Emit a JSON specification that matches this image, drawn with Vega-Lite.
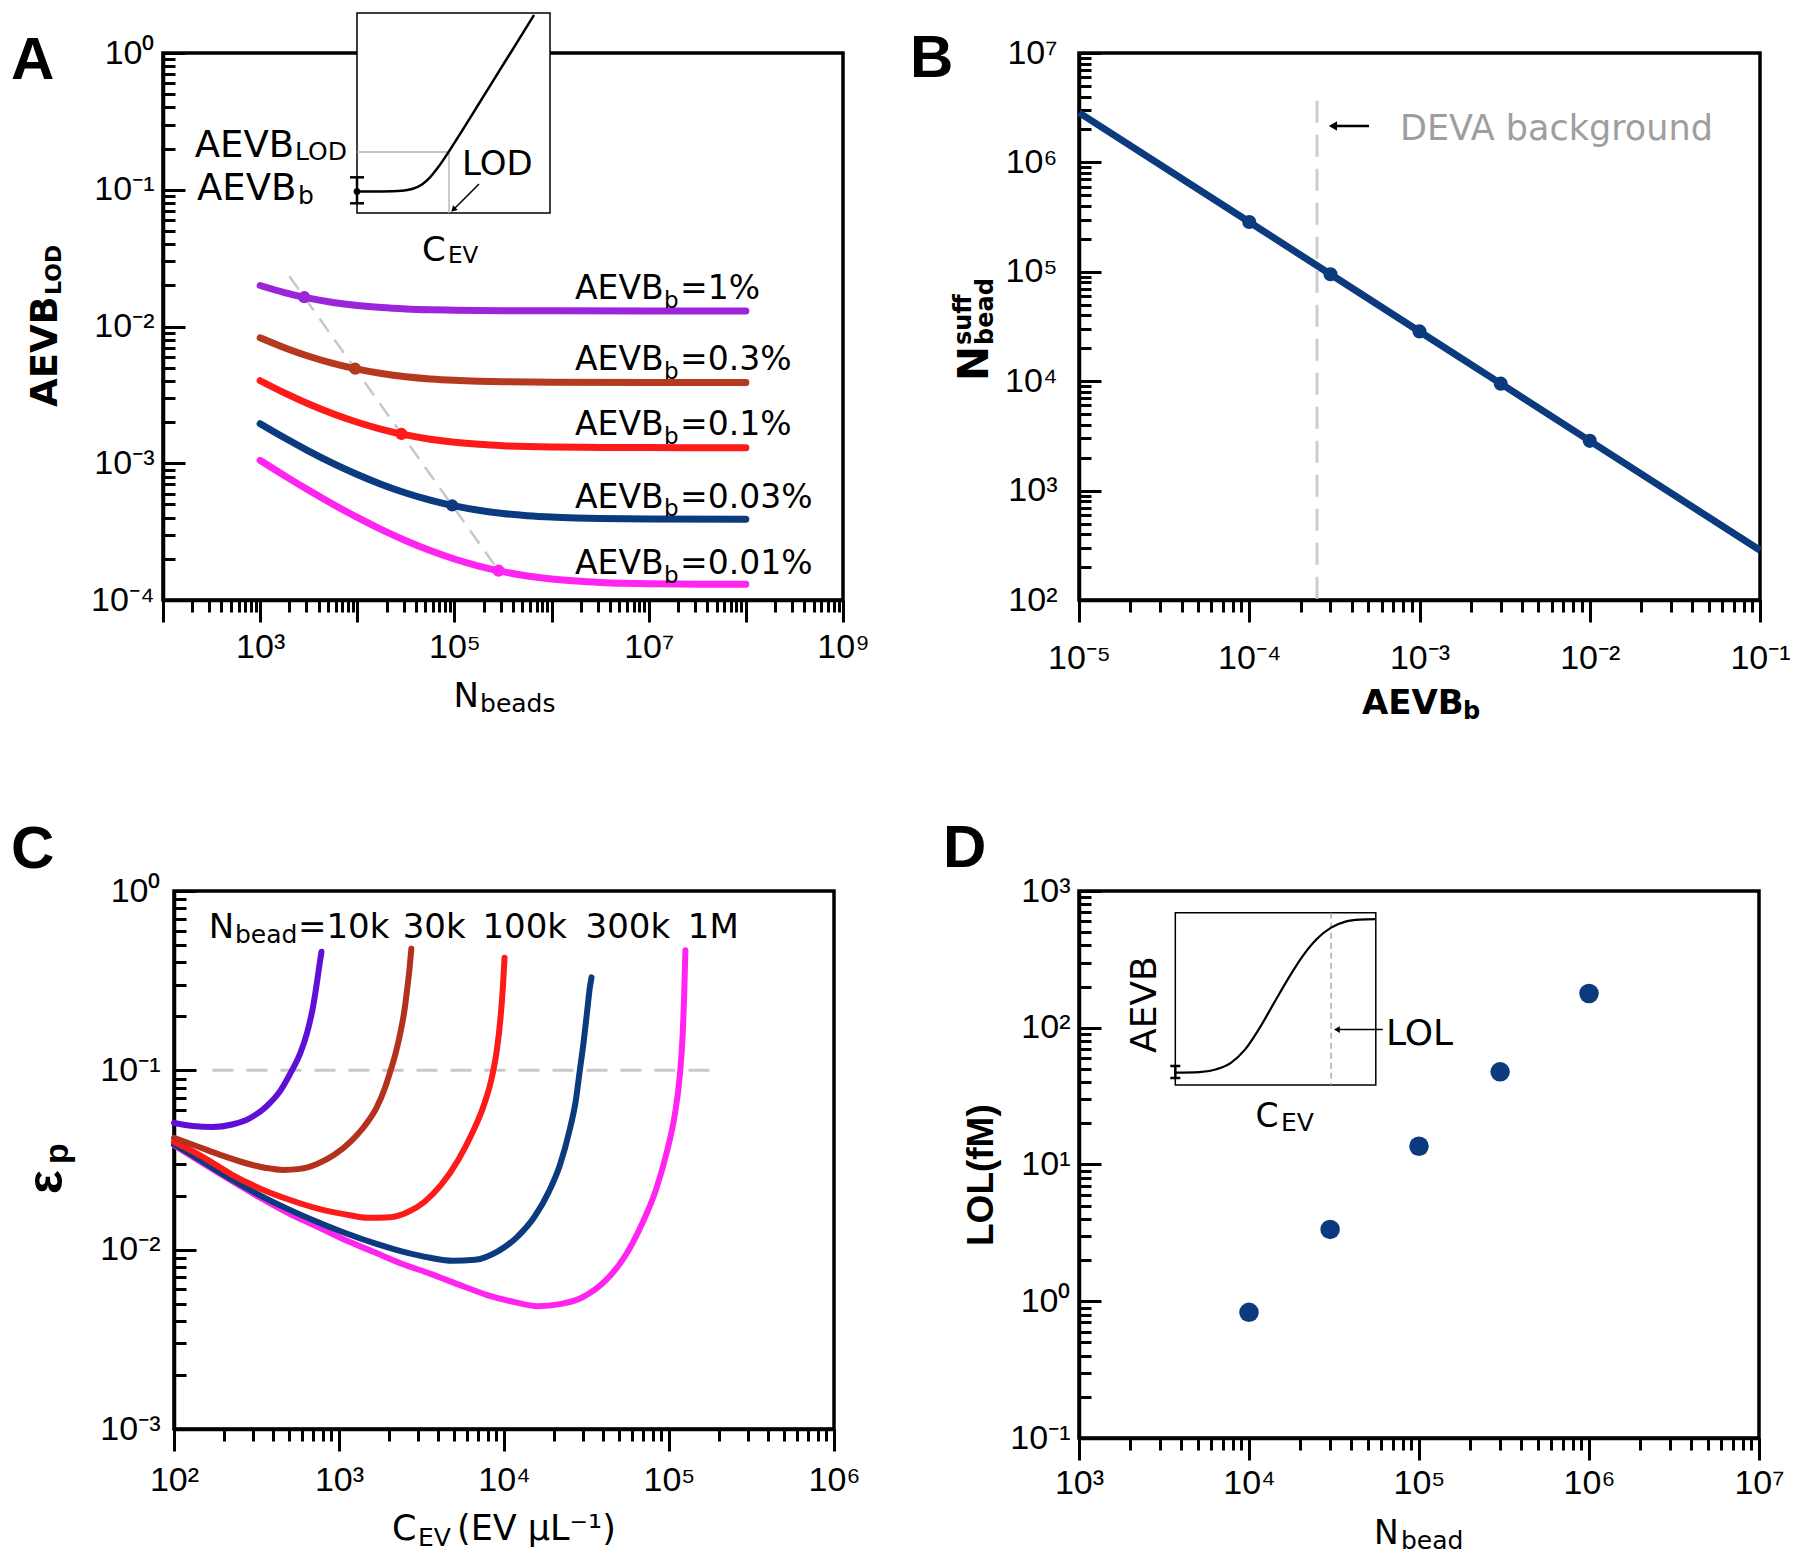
{
"$schema": "https://vega.github.io/schema/vega-lite/v6.json",
"background": "white",
"padding": {"left": 9, "top": 8, "right": 5, "bottom": 5},
"autosize": {"type": "pad"},
"bounds": "flush",
"align": "all",
"columns": 2,
"spacing": {"row": 291, "column": 235},
"resolve": {"scale": {"color": "independent"}},
"config": {
  "view": {"stroke": "black", "strokeWidth": 3.5},
  "font": "Liberation Sans",
  "axis": {"grid": false, "domainColor": "black", "domainWidth": 3.5, "tickColor": "black", "tickWidth": 3, "labelFont": "Liberation Sans", "labelFontSize": 34, "labelColor": "black", "labelOverlap": false, "labelFlush": false, "labelBound": false, "labelAngle": 0},
  "text": {"font": "DejaVu Sans", "color": "black"}
},
"concat": [
{
"width": 680, "height": 547,
"encoding": {
  "x": {"field": "N", "type": "quantitative", "scale": {"type": "log", "domain": [100, 1000000000]},
        "axis": {"title": null, "labelPadding": 8,
                 "values": [100,200,300,400,500,600,700,800,900,1000,2000,3000,4000,5000,6000,7000,8000,9000,10000,20000,30000,40000,50000,60000,70000,80000,90000,100000,200000,300000,400000,500000,600000,700000,800000,900000,1000000,2000000,3000000,4000000,5000000,6000000,7000000,8000000,9000000,10000000,20000000,30000000,40000000,50000000,60000000,70000000,80000000,90000000,100000000,200000000,300000000,400000000,500000000,600000000,700000000,800000000,900000000,1000000000],
                 "labelExpr": "abs(log(datum.value)/LN10-round(log(datum.value)/LN10))<0.01 && round(log(datum.value)/LN10)%2==1 ? '10'+['⁰','¹','²','³','⁴','⁵','⁶','⁷','⁸','⁹'][round(log(datum.value)/LN10)] : ''",
                 "tickSize": {"expr": "abs(log(datum.value)/LN10-round(log(datum.value)/LN10))<0.01 ? 22 : 12"}}},
  "y": {"field": "AEVB", "type": "quantitative", "scale": {"type": "log", "domain": [0.0001, 1]},
        "axis": {"title": null, "labelPadding": 31,
                 "values": [0.0001,0.0002,0.0003,0.0004,0.0005,0.0006,0.0007,0.0008,0.0009,0.001,0.002,0.003,0.004,0.005,0.006,0.007,0.008,0.009,0.01,0.02,0.03,0.04,0.05,0.06,0.07,0.08,0.09,0.1,0.2,0.3,0.4,0.5,0.6,0.7,0.8,0.9,1],
                 "labelExpr": "abs(log(datum.value)/LN10-round(log(datum.value)/LN10))<0.01 ? '10'+(round(log(datum.value)/LN10)<0 ? '⁻' : '')+['⁰','¹','²','³','⁴','⁵','⁶','⁷','⁸','⁹'][abs(round(log(datum.value)/LN10))] : ''",
                 "tickSize": {"expr": "abs(log(datum.value)/LN10-round(log(datum.value)/LN10))<0.01 ? -22 : -12"}}}
},
"layer": [
  {"data": {"values": [{"N": 2000, "AEVB": 0.02333}, {"N": 285000, "AEVB": 0.0001637}]},
   "mark": {"type": "line", "color": "#c8c8c8", "strokeWidth": 2.5, "strokeDash": [16, 10]}, "encoding": {}},
  {"data": {"values": [
    {"b":"1%","N":1000,"AEVB":0.01995},{"b":"1%","N":1778,"AEVB":0.017721},{"b":"1%","N":3162,"AEVB":0.01612},{"b":"1%","N":5623,"AEVB":0.015},{"b":"1%","N":10000,"AEVB":0.014243},{"b":"1%","N":17783,"AEVB":0.01375},{"b":"1%","N":31623,"AEVB":0.013442},{"b":"1%","N":56234,"AEVB":0.013256},{"b":"1%","N":100000,"AEVB":0.013146},{"b":"1%","N":177828,"AEVB":0.013083},{"b":"1%","N":316228,"AEVB":0.013047},{"b":"1%","N":1000000,"AEVB":0.013015},{"b":"1%","N":10000000,"AEVB":0.013002},{"b":"1%","N":100000000,"AEVB":0.013},
    {"b":"0.3%","N":1000,"AEVB":0.0082733},{"b":"0.3%","N":1778,"AEVB":0.0069992},{"b":"0.3%","N":3162,"AEVB":0.0060575},{"b":"0.3%","N":5623,"AEVB":0.0053688},{"b":"0.3%","N":10000,"AEVB":0.0048734},{"b":"0.3%","N":17783,"AEVB":0.0045259},{"b":"0.3%","N":31623,"AEVB":0.0042899},{"b":"0.3%","N":56234,"AEVB":0.0041358},{"b":"0.3%","N":100000,"AEVB":0.0040392},{"b":"0.3%","N":177828,"AEVB":0.0039807},{"b":"0.3%","N":316228,"AEVB":0.0039462},{"b":"0.3%","N":1000000,"AEVB":0.0039149},{"b":"0.3%","N":10000000,"AEVB":0.0039015},{"b":"0.3%","N":100000000,"AEVB":0.0039},
    {"b":"0.1%","N":1000,"AEVB":0.004015},{"b":"0.1%","N":1778,"AEVB":0.0032695},{"b":"0.1%","N":3162,"AEVB":0.0027134},{"b":"0.1%","N":5623,"AEVB":0.0023001},{"b":"0.1%","N":10000,"AEVB":0.001995},{"b":"0.1%","N":17783,"AEVB":0.0017721},{"b":"0.1%","N":31623,"AEVB":0.001612},{"b":"0.1%","N":56234,"AEVB":0.0015},{"b":"0.1%","N":100000,"AEVB":0.0014243},{"b":"0.1%","N":177828,"AEVB":0.001375},{"b":"0.1%","N":316228,"AEVB":0.0013442},{"b":"0.1%","N":562341,"AEVB":0.0013256},{"b":"0.1%","N":1000000,"AEVB":0.0013146},{"b":"0.1%","N":3162278,"AEVB":0.0013047},{"b":"0.1%","N":10000000,"AEVB":0.0013015},{"b":"0.1%","N":100000000,"AEVB":0.0013},
    {"b":"0.03%","N":1000,"AEVB":0.0019456},{"b":"0.03%","N":1778,"AEVB":0.0015355},{"b":"0.03%","N":3162,"AEVB":0.0012284},{"b":"0.03%","N":5623,"AEVB":0.00099873},{"b":"0.03%","N":10000,"AEVB":0.00082733},{"b":"0.03%","N":17783,"AEVB":0.00069992},{"b":"0.03%","N":31623,"AEVB":0.00060575},{"b":"0.03%","N":56234,"AEVB":0.00053688},{"b":"0.03%","N":100000,"AEVB":0.00048734},{"b":"0.03%","N":177828,"AEVB":0.00045259},{"b":"0.03%","N":316228,"AEVB":0.00042899},{"b":"0.03%","N":562341,"AEVB":0.00041358},{"b":"0.03%","N":1000000,"AEVB":0.00040392},{"b":"0.03%","N":1778279,"AEVB":0.00039807},{"b":"0.03%","N":3162278,"AEVB":0.00039462},{"b":"0.03%","N":10000000,"AEVB":0.00039149},{"b":"0.03%","N":100000000,"AEVB":0.00039015},
    {"b":"0.01%","N":1000,"AEVB":0.00104916},{"b":"0.01%","N":1778,"AEVB":0.00081202},{"b":"0.01%","N":3162,"AEVB":0.0006343},{"b":"0.01%","N":5623,"AEVB":0.00050115},{"b":"0.01%","N":10000,"AEVB":0.0004015},{"b":"0.01%","N":17783,"AEVB":0.00032695},{"b":"0.01%","N":31623,"AEVB":0.00027134},{"b":"0.01%","N":56234,"AEVB":0.00023001},{"b":"0.01%","N":100000,"AEVB":0.0001995},{"b":"0.01%","N":177828,"AEVB":0.00017721},{"b":"0.01%","N":316228,"AEVB":0.0001612},{"b":"0.01%","N":562341,"AEVB":0.00015},{"b":"0.01%","N":1000000,"AEVB":0.00014243},{"b":"0.01%","N":1778279,"AEVB":0.0001375},{"b":"0.01%","N":3162278,"AEVB":0.00013442},{"b":"0.01%","N":5623413,"AEVB":0.00013256},{"b":"0.01%","N":10000000,"AEVB":0.00013146},{"b":"0.01%","N":31622777,"AEVB":0.00013047},{"b":"0.01%","N":100000000,"AEVB":0.00013015}
  ]},
   "mark": {"type": "line", "strokeWidth": 7, "interpolate": "monotone", "strokeCap": "round"},
   "encoding": {"color": {"field": "b", "type": "nominal", "legend": null, "scale": {"domain": ["1%","0.3%","0.1%","0.03%","0.01%"], "range": ["#9b26d9","#b5391f","#ff1a1a","#0b3b7e","#ff24ef"]}}}},
  {"data": {"values": [{"b":"1%","N":2850,"AEVB":0.01637},{"b":"0.3%","N":9500,"AEVB":0.004911},{"b":"0.1%","N":28500,"AEVB":0.001637},{"b":"0.03%","N":95000,"AEVB":0.0004911},{"b":"0.01%","N":285000,"AEVB":0.0001637}]},
   "mark": {"type": "circle", "size": 150, "opacity": 1},
   "encoding": {"color": {"field": "b", "type": "nominal", "legend": null, "scale": {"domain": ["1%","0.3%","0.1%","0.03%","0.01%"], "range": ["#9b26d9","#b5391f","#ff1a1a","#0b3b7e","#ff24ef"]}}}},
  {"data": {"values": [{"N": 9933, "N2": 963800, "AEVB": 1.961, "AEVB2": 0.0676}]},
   "mark": {"type": "rect", "fill": "white", "stroke": "black", "strokeWidth": 1.5},
   "encoding": {"x2": {"field": "N2"}, "y2": {"field": "AEVB2"}}},
  {"data": {"values": [{"N": 9933, "N2": 87950, "AEVB": 0.1888, "AEVB2": 0.1888}, {"N": 87950, "N2": 87950, "AEVB": 0.1888, "AEVB2": 0.0676}]},
   "mark": {"type": "rule", "color": "#b0b0b0", "strokeWidth": 1.3},
   "encoding": {"x2": {"field": "N2"}, "y2": {"field": "AEVB2"}}},
  {"data": {"values": [{"N":10172,"AEVB":0.0971},{"N":17970,"AEVB":0.09726},{"N":28870,"AEVB":0.09842},{"N":36590,"AEVB":0.1013},{"N":46390,"AEVB":0.1094},{"N":56050,"AEVB":0.1233},{"N":66170,"AEVB":0.1422},{"N":76290,"AEVB":0.1639},{"N":87950,"AEVB":0.191},{"N":119700,"AEVB":0.2698},{"N":170800,"AEVB":0.4043},{"N":243700,"AEVB":0.6065},{"N":347800,"AEVB":0.9117},{"N":496400,"AEVB":1.368},{"N":659500,"AEVB":1.896}]},
   "mark": {"type": "line", "color": "black", "strokeWidth": 2.5, "interpolate": "monotone"}, "encoding": {}},
  {"data": {"values": [{"N": 9933, "AEVB": 0.1233, "AEVB2": 0.0796}]},
   "mark": {"type": "rule", "color": "black", "strokeWidth": 2.5}, "encoding": {"y2": {"field": "AEVB2"}}},
  {"data": {"values": [{"N": 9933, "AEVB": 0.1233}, {"N": 9933, "AEVB": 0.0796}]},
   "mark": {"type": "tick", "orient": "horizontal", "size": 14, "thickness": 2.5, "color": "black", "opacity": 1}},
  {"data": {"values": [{"N": 9933, "AEVB": 0.0971}]},
   "mark": {"type": "circle", "size": 45, "color": "black", "opacity": 1}},
  {"data": {"values": [{"N": 179100, "N2": 99010, "AEVB": 0.11015, "AEVB2": 0.07229}]},
   "mark": {"type": "rule", "color": "black", "strokeWidth": 1.5}, "encoding": {"x2": {"field": "N2"}, "y2": {"field": "AEVB2"}}},
  {"data": {"values": [{"N": 97500, "AEVB": 0.0715}]},
   "mark": {"type": "point", "shape": "triangle-down", "angle": 45, "size": 45, "filled": true, "color": "black", "opacity": 1}},
  {"data": {"values": [
    {"N": 1742800, "AEVB": 0.01586, "t": "AEVB"}, {"N": 21002000, "AEVB": 0.01586, "t": "=1%"},
    {"N": 1742800, "AEVB": 0.0048317, "t": "AEVB"}, {"N": 21002000, "AEVB": 0.0048317, "t": "=0.3%"},
    {"N": 1742800, "AEVB": 0.0016088, "t": "AEVB"}, {"N": 21002000, "AEVB": 0.0016088, "t": "=0.1%"},
    {"N": 1742800, "AEVB": 0.00047468, "t": "AEVB"}, {"N": 21002000, "AEVB": 0.00047468, "t": "=0.03%"},
    {"N": 1742800, "AEVB": 0.00015413, "t": "AEVB"}, {"N": 21002000, "AEVB": 0.00015413, "t": "=0.01%"}]},
   "mark": {"type": "text", "align": "left", "baseline": "alphabetic", "fontSize": 33, "font": "DejaVu Sans"},
   "encoding": {"text": {"field": "t"}}},
  {"data": {"values": [
    {"N": 14374000, "AEVB": 0.013628, "t": "b"}, {"N": 14374000, "AEVB": 0.0041524, "t": "b"}, {"N": 14374000, "AEVB": 0.0013829, "t": "b"}, {"N": 14374000, "AEVB": 0.00040795, "t": "b"}, {"N": 14374000, "AEVB": 0.00013248, "t": "b"},
    {"N": 85896, "AEVB": 0.028888, "t": "EV"}]},
   "mark": {"type": "text", "align": "left", "baseline": "alphabetic", "fontSize": 23, "font": "DejaVu Sans"},
   "encoding": {"text": {"field": "t"}}},
  {"data": {"values": [{"N": 212, "AEVB": 0.17447, "t": "AEVB"}, {"N": 223.9, "AEVB": 0.08345, "t": "AEVB"}]},
   "mark": {"type": "text", "align": "left", "baseline": "alphabetic", "fontSize": 37, "font": "DejaVu Sans"},
   "encoding": {"text": {"field": "t"}}},
  {"data": {"values": [{"N": 2285, "AEVB": 0.16508, "t": "LOD"}, {"N": 2454, "AEVB": 0.07866, "t": "b"}, {"N": 183400, "AEVB": 0.0000151, "t": "beads"}]},
   "mark": {"type": "text", "align": "left", "baseline": "alphabetic", "fontSize": 25, "font": "DejaVu Sans"},
   "encoding": {"text": {"field": "t"}}},
  {"data": {"values": [{"N": 119700, "AEVB": 0.12817, "t": "LOD"}, {"N": 97610, "AEVB": 0.0000165, "t": "N"}, {"N": 46390, "AEVB": 0.03013, "t": "C"}]},
   "mark": {"type": "text", "align": "left", "baseline": "alphabetic", "fontSize": 34, "font": "DejaVu Sans"},
   "encoding": {"text": {"field": "t"}}},
  {"data": {"values": [{"N": 8.108, "AEVB": 0.0025784, "t": "AEVB"}]},
   "mark": {"type": "text", "align": "left", "baseline": "alphabetic", "angle": 270, "fontSize": 37, "fontWeight": "bold", "font": "DejaVu Sans"},
   "encoding": {"text": {"field": "t"}}},
  {"data": {"values": [{"N": 8.913, "AEVB": 0.016995, "t": "LOD"}]},
   "mark": {"type": "text", "align": "left", "baseline": "alphabetic", "angle": 270, "fontSize": 22, "fontWeight": "bold", "font": "DejaVu Sans"},
   "encoding": {"text": {"field": "t"}}},
  {"data": {"values": [{"N": 2.7247, "AEVB": 0.64547, "t": "A"}]},
   "mark": {"type": "text", "align": "left", "baseline": "alphabetic", "fontSize": 60, "fontWeight": "bold", "font": "Liberation Sans"},
   "encoding": {"text": {"field": "t"}}}
]
},
{
"width": 681, "height": 547,
"encoding": {
  "x": {"field": "b", "type": "quantitative", "scale": {"type": "log", "domain": [0.00001, 0.1]},
        "axis": {"title": null, "labelPadding": 19,
                 "values": [0.00001,0.00002,0.00003,0.00004,0.00005,0.00006,0.00007,0.00008,0.00009,0.0001,0.0002,0.0003,0.0004,0.0005,0.0006,0.0007,0.0008,0.0009,0.001,0.002,0.003,0.004,0.005,0.006,0.007,0.008,0.009,0.01,0.02,0.03,0.04,0.05,0.06,0.07,0.08,0.09,0.1],
                 "labelExpr": "abs(log(datum.value)/LN10-round(log(datum.value)/LN10))<0.01 ? '10'+(round(log(datum.value)/LN10)<0 ? '⁻' : '')+['⁰','¹','²','³','⁴','⁵','⁶','⁷','⁸','⁹'][abs(round(log(datum.value)/LN10))] : ''",
                 "tickSize": {"expr": "abs(log(datum.value)/LN10-round(log(datum.value)/LN10))<0.01 ? 22 : 12"}}},
  "y": {"field": "Nsuff", "type": "quantitative", "scale": {"type": "log", "domain": [100, 10000000]},
        "axis": {"title": null, "labelPadding": 44,
                 "values": [100,200,300,400,500,600,700,800,900,1000,2000,3000,4000,5000,6000,7000,8000,9000,10000,20000,30000,40000,50000,60000,70000,80000,90000,100000,200000,300000,400000,500000,600000,700000,800000,900000,1000000,2000000,3000000,4000000,5000000,6000000,7000000,8000000,9000000,10000000],
                 "labelExpr": "abs(log(datum.value)/LN10-round(log(datum.value)/LN10))<0.01 ? '10'+(round(log(datum.value)/LN10)<0 ? '⁻' : '')+['⁰','¹','²','³','⁴','⁵','⁶','⁷','⁸','⁹'][abs(round(log(datum.value)/LN10))] : ''",
                 "tickSize": {"expr": "abs(log(datum.value)/LN10-round(log(datum.value)/LN10))<0.01 ? -22 : -12"}}}
},
"layer": [
  {"data": {"values": [{"b": 0.00025, "Nsuff": 3660000, "Nsuff2": 100}]},
   "mark": {"type": "rule", "color": "#cccccc", "strokeWidth": 3, "strokeDash": [22, 12]}, "encoding": {"y2": {"field": "Nsuff2"}}},
  {"data": {"values": [{"b":0.00001,"Nsuff":2850000},{"b":0.0001,"Nsuff":285000},{"b":0.0003,"Nsuff":95000},{"b":0.001,"Nsuff":28500},{"b":0.003,"Nsuff":9500},{"b":0.01,"Nsuff":2850},{"b":0.1,"Nsuff":285}]},
   "mark": {"type": "line", "color": "#0b3b7e", "strokeWidth": 7}, "encoding": {}},
  {"data": {"values": [{"b":0.0001,"Nsuff":285000},{"b":0.0003,"Nsuff":95000},{"b":0.001,"Nsuff":28500},{"b":0.003,"Nsuff":9500},{"b":0.01,"Nsuff":2850}]},
   "mark": {"type": "circle", "color": "#0b3b7e", "size": 200, "opacity": 1}},
  {"data": {"values": [{"b": 0.0003232, "b2": 0.000505, "Nsuff": 2151000}]},
   "mark": {"type": "rule", "color": "black", "strokeWidth": 2.5}, "encoding": {"x2": {"field": "b2"}}},
  {"data": {"values": [{"b": 0.0003103, "Nsuff": 2151000}]},
   "mark": {"type": "point", "shape": "triangle-left", "size": 90, "filled": true, "color": "black", "opacity": 1}},
  {"data": {"values": [{"b": 0.0007684, "Nsuff": 1585700, "t": "DEVA background"}]},
   "mark": {"type": "text", "align": "left", "baseline": "alphabetic", "fontSize": 35, "color": "#9e9e9e", "font": "DejaVu Sans"},
   "encoding": {"text": {"field": "t"}}},
  {"data": {"values": [{"b": 0.00045952, "Nsuff": 9.173, "t": "AEVB"}]},
   "mark": {"type": "text", "align": "left", "baseline": "alphabetic", "fontSize": 34, "fontWeight": "bold", "font": "DejaVu Sans"},
   "encoding": {"text": {"field": "t"}}},
  {"data": {"values": [{"b": 0.0018007, "Nsuff": 8.169, "t": "b"}]},
   "mark": {"type": "text", "align": "left", "baseline": "alphabetic", "fontSize": 24, "fontWeight": "bold", "font": "DejaVu Sans"},
   "encoding": {"text": {"field": "t"}}},
  {"data": {"values": [{"b": 0.0000029213, "Nsuff": 10041, "t": "N"}]},
   "mark": {"type": "text", "align": "left", "baseline": "alphabetic", "angle": 270, "fontSize": 42, "fontWeight": "bold", "font": "DejaVu Sans"},
   "encoding": {"text": {"field": "t"}}},
  {"data": {"values": [{"b": 0.0000023208, "Nsuff": 21420, "t": "suff"}, {"b": 0.0000031252, "Nsuff": 21420, "t": "bead"}]},
   "mark": {"type": "text", "align": "left", "baseline": "alphabetic", "angle": 270, "fontSize": 24, "fontWeight": "bold", "font": "DejaVu Sans"},
   "encoding": {"text": {"field": "t"}}},
  {"data": {"values": [{"b": 0.0000010169, "Nsuff": 6034600, "t": "B"}]},
   "mark": {"type": "text", "align": "left", "baseline": "alphabetic", "fontSize": 60, "fontWeight": "bold", "font": "Liberation Sans"},
   "encoding": {"text": {"field": "t"}}}
]
},
{
"width": 671, "height": 538,
"view": {"stroke": null},
"encoding": {
  "x": {"field": "C", "type": "quantitative", "scale": {"type": "log", "domain": [100, 1000000], "range": [11, 671]},
        "axis": {"title": null, "labelPadding": 12,
                 "values": [100,200,300,400,500,600,700,800,900,1000,2000,3000,4000,5000,6000,7000,8000,9000,10000,20000,30000,40000,50000,60000,70000,80000,90000,100000,200000,300000,400000,500000,600000,700000,800000,900000,1000000],
                 "labelExpr": "abs(log(datum.value)/LN10-round(log(datum.value)/LN10))<0.01 ? '10'+(round(log(datum.value)/LN10)<0 ? '⁻' : '')+['⁰','¹','²','³','⁴','⁵','⁶','⁷','⁸','⁹'][abs(round(log(datum.value)/LN10))] : ''",
                 "tickSize": {"expr": "abs(log(datum.value)/LN10-round(log(datum.value)/LN10))<0.01 ? 22 : 12"}}},
  "y": {"field": "eps", "type": "quantitative", "scale": {"type": "log", "domain": [0.001, 1]},
        "axis": {"title": null, "labelPadding": 36, "offset": -11,
                 "values": [0.001,0.002,0.003,0.004,0.005,0.006,0.007,0.008,0.009,0.01,0.02,0.03,0.04,0.05,0.06,0.07,0.08,0.09,0.1,0.2,0.3,0.4,0.5,0.6,0.7,0.8,0.9,1],
                 "labelExpr": "abs(log(datum.value)/LN10-round(log(datum.value)/LN10))<0.01 ? '10'+(round(log(datum.value)/LN10)<0 ? '⁻' : '')+['⁰','¹','²','³','⁴','⁵','⁶','⁷','⁸','⁹'][abs(round(log(datum.value)/LN10))] : ''",
                 "tickSize": {"expr": "abs(log(datum.value)/LN10-round(log(datum.value)/LN10))<0.01 ? -22 : -12"}}}
},
"layer": [
  {"data": {"values": [{"C": 100, "C2": 1000000, "eps": 0.001, "eps2": 1}]},
   "mark": {"type": "rect", "fillOpacity": 0, "stroke": "black", "strokeWidth": 3.5},
   "encoding": {"x2": {"field": "C2"}, "y2": {"field": "eps2"}}},
  {"data": {"values": [{"C": 171, "eps": 0.1}, {"C": 176600, "eps": 0.1}]},
   "mark": {"type": "line", "color": "#c8c8c8", "strokeWidth": 3, "strokeDash": [21, 13]}, "encoding": {}},
  {"data": {"values": [
    {"Nb":"1M","C":100,"eps":0.03822},{"Nb":"1M","C":151.9,"eps":0.03004},{"Nb":"1M","C":225.3,"eps":0.02407},{"Nb":"1M","C":334.2,"eps":0.01941},{"Nb":"1M","C":495.7,"eps":0.01594},{"Nb":"1M","C":735.3,"eps":0.01344},{"Nb":"1M","C":1091,"eps":0.01132},{"Nb":"1M","C":1618,"eps":0.009725},{"Nb":"1M","C":2399,"eps":0.008351},{"Nb":"1M","C":3559,"eps":0.007358},{"Nb":"1M","C":5279,"eps":0.006401},{"Nb":"1M","C":7831,"eps":0.005603},{"Nb":"1M","C":11618,"eps":0.005095},{"Nb":"1M","C":15925,"eps":0.004842},{"Nb":"1M","C":21827,"eps":0.004967},{"Nb":"1M","C":29923,"eps":0.005428},{"Nb":"1M","C":41020,"eps":0.006691},{"Nb":"1M","C":54070,"eps":0.009187},{"Nb":"1M","C":68470,"eps":0.013868},{"Nb":"1M","C":83420,"eps":0.021614},{"Nb":"1M","C":97640,"eps":0.035885},{"Nb":"1M","C":108200,"eps":0.055913},{"Nb":"1M","C":116200,"eps":0.092852},{"Nb":"1M","C":120850,"eps":0.15417},{"Nb":"1M","C":123750,"eps":0.27273},{"Nb":"1M","C":125700,"eps":0.46733},
    {"Nb":"300k","C":100,"eps":0.03871},{"Nb":"300k","C":151.9,"eps":0.03062},{"Nb":"300k","C":225.3,"eps":0.02454},{"Nb":"300k","C":334.2,"eps":0.02002},{"Nb":"300k","C":495.7,"eps":0.01677},{"Nb":"300k","C":735.3,"eps":0.01431},{"Nb":"300k","C":1091,"eps":0.01238},{"Nb":"300k","C":1618,"eps":0.0109},{"Nb":"300k","C":2399,"eps":0.009786},{"Nb":"300k","C":3559,"eps":0.009013},{"Nb":"300k","C":4880,"eps":0.008678},{"Nb":"300k","C":6689,"eps":0.008789},{"Nb":"300k","C":9170,"eps":0.009786},{"Nb":"300k","C":12085,"eps":0.011834},{"Nb":"300k","C":15303,"eps":0.015256},{"Nb":"300k","C":18643,"eps":0.020939},{"Nb":"300k","C":21827,"eps":0.02967},{"Nb":"300k","C":24959,"eps":0.046238},{"Nb":"300k","C":27219,"eps":0.067624},{"Nb":"300k","C":28766,"eps":0.098923},{"Nb":"300k","C":30402,"eps":0.14465},{"Nb":"300k","C":31874,"eps":0.21164},{"Nb":"300k","C":33153,"eps":0.29056},{"Nb":"300k","C":33948,"eps":0.32993},
    {"Nb":"100k","C":100,"eps":0.03997},{"Nb":"100k","C":151.9,"eps":0.03263},{"Nb":"100k","C":225.3,"eps":0.02615},{"Nb":"100k","C":334.2,"eps":0.02189},{"Nb":"100k","C":495.7,"eps":0.01904},{"Nb":"100k","C":735.3,"eps":0.01699},{"Nb":"100k","C":1091,"eps":0.01574},{"Nb":"100k","C":1495,"eps":0.01506},{"Nb":"100k","C":2049,"eps":0.01516},{"Nb":"100k","C":2597,"eps":0.01615},{"Nb":"100k","C":3289,"eps":0.01845},{"Nb":"100k","C":4168,"eps":0.02302},{"Nb":"100k","C":5279,"eps":0.03162},{"Nb":"100k","C":6430,"eps":0.0448},{"Nb":"100k","C":7527,"eps":0.06348},{"Nb":"100k","C":8476,"eps":0.09285},{"Nb":"100k","C":9027,"eps":0.12746},{"Nb":"100k","C":9539,"eps":0.19867},{"Nb":"100k","C":9845,"eps":0.29056},{"Nb":"100k","C":10079,"eps":0.42497},
    {"Nb":"30k","C":100,"eps":0.04204},{"Nb":"30k","C":140.4,"eps":0.03751},{"Nb":"30k","C":192.4,"eps":0.03369},{"Nb":"30k","C":263.8,"eps":0.03062},{"Nb":"30k","C":361.5,"eps":0.02856},{"Nb":"30k","C":458.1,"eps":0.02785},{"Nb":"30k","C":580.3,"eps":0.02821},{"Nb":"30k","C":735.3,"eps":0.03004},{"Nb":"30k","C":931.4,"eps":0.03369},{"Nb":"30k","C":1180,"eps":0.04022},{"Nb":"30k","C":1437,"eps":0.04927},{"Nb":"30k","C":1683,"eps":0.0615},{"Nb":"30k","C":1894,"eps":0.07925},{"Nb":"30k","C":2049,"eps":0.09892},{"Nb":"30k","C":2218,"eps":0.12746},{"Nb":"30k","C":2362,"eps":0.16425},{"Nb":"30k","C":2497,"eps":0.21843},{"Nb":"30k","C":2597,"eps":0.29056},{"Nb":"30k","C":2680,"eps":0.37446},{"Nb":"30k","C":2744,"eps":0.47643},
    {"Nb":"10k","C":100,"eps":0.05085},{"Nb":"10k","C":129.7,"eps":0.04896},{"Nb":"10k","C":171,"eps":0.04834},{"Nb":"10k","C":225.3,"eps":0.0499},{"Nb":"10k","C":285.4,"eps":0.05385},{"Nb":"10k","C":361.5,"eps":0.06268},{"Nb":"10k","C":440.4,"eps":0.07677},{"Nb":"10k","C":515.6,"eps":0.09892},{"Nb":"10k","C":580.3,"eps":0.12351},{"Nb":"10k","C":643,"eps":0.16425},{"Nb":"10k","C":695.8,"eps":0.22548},{"Nb":"10k","C":735.3,"eps":0.30959},{"Nb":"10k","C":764.9,"eps":0.39893},{"Nb":"10k","C":783.1,"eps":0.45857}
  ]},
   "mark": {"type": "line", "strokeWidth": 6, "interpolate": "monotone", "strokeCap": "round"},
   "encoding": {"color": {"field": "Nb", "type": "nominal", "legend": null, "scale": {"domain": ["10k","30k","100k","300k","1M"], "range": ["#5f10d6","#b3311d","#ff1a1a","#0b3b7e","#ff24ef"]}}}},
  {"data": {"values": [{"C": 162.3, "eps": 0.54683, "t": "N"}, {"C": 564.2, "eps": 0.54683, "t": "=10k"}, {"C": 2433, "eps": 0.54683, "t": "30k"}, {"C": 7397, "eps": 0.54683, "t": "100k"}, {"C": 31187, "eps": 0.54683, "t": "300k"}, {"C": 129990, "eps": 0.54683, "t": "1M"}]},
   "mark": {"type": "text", "align": "left", "baseline": "alphabetic", "fontSize": 34, "font": "DejaVu Sans"},
   "encoding": {"text": {"field": "t"}}},
  {"data": {"values": [{"C": 234.2, "eps": 0.51289, "t": "bead"}, {"C": 3011, "eps": 0.00022262, "t": "EV"}]},
   "mark": {"type": "text", "align": "left", "baseline": "alphabetic", "fontSize": 25, "font": "DejaVu Sans"},
   "encoding": {"text": {"field": "t"}}},
  {"data": {"values": [{"C": 2095, "eps": 0.00024044, "t": "C"}, {"C": 5191, "eps": 0.00024044, "t": "(EV µL⁻¹)"}]},
   "mark": {"type": "text", "align": "left", "baseline": "alphabetic", "fontSize": 35, "font": "DejaVu Sans"},
   "encoding": {"text": {"field": "t"}}},
  {"data": {"values": [{"C": 20.95, "eps": 0.020437, "t": "ε"}]},
   "mark": {"type": "text", "align": "left", "baseline": "alphabetic", "angle": 270, "fontSize": 50, "fontWeight": "bold", "font": "Liberation Sans"},
   "encoding": {"text": {"field": "t"}}},
  {"data": {"values": [{"C": 22.79, "eps": 0.030039, "t": "p"}]},
   "mark": {"type": "text", "align": "left", "baseline": "alphabetic", "angle": 270, "fontSize": 34, "fontWeight": "bold", "font": "Liberation Sans"},
   "encoding": {"text": {"field": "t"}}},
  {"data": {"values": [{"C": 10.28, "eps": 1.3437, "t": "C"}]},
   "mark": {"type": "text", "align": "left", "baseline": "alphabetic", "fontSize": 60, "fontWeight": "bold", "font": "Liberation Sans"},
   "encoding": {"text": {"field": "t"}}}
]
},
{
"width": 680, "height": 547,
"encoding": {
  "x": {"field": "Nbead", "type": "quantitative", "scale": {"type": "log", "domain": [1000, 10000000]},
        "axis": {"title": null, "labelPadding": 6,
                 "values": [1000,2000,3000,4000,5000,6000,7000,8000,9000,10000,20000,30000,40000,50000,60000,70000,80000,90000,100000,200000,300000,400000,500000,600000,700000,800000,900000,1000000,2000000,3000000,4000000,5000000,6000000,7000000,8000000,9000000,10000000],
                 "labelExpr": "abs(log(datum.value)/LN10-round(log(datum.value)/LN10))<0.01 ? '10'+(round(log(datum.value)/LN10)<0 ? '⁻' : '')+['⁰','¹','²','³','⁴','⁵','⁶','⁷','⁸','⁹'][abs(round(log(datum.value)/LN10))] : ''",
                 "tickSize": {"expr": "abs(log(datum.value)/LN10-round(log(datum.value)/LN10))<0.01 ? 22 : 12"}}},
  "y": {"field": "LOL", "type": "quantitative", "scale": {"type": "log", "domain": [0.1, 1000]},
        "axis": {"title": null, "labelPadding": 31,
                 "values": [0.1,0.2,0.3,0.4,0.5,0.6,0.7,0.8,0.9,1,2,3,4,5,6,7,8,9,10,20,30,40,50,60,70,80,90,100,200,300,400,500,600,700,800,900,1000],
                 "labelExpr": "abs(log(datum.value)/LN10-round(log(datum.value)/LN10))<0.01 ? '10'+(round(log(datum.value)/LN10)<0 ? '⁻' : '')+['⁰','¹','²','³','⁴','⁵','⁶','⁷','⁸','⁹'][abs(round(log(datum.value)/LN10))] : ''",
                 "tickSize": {"expr": "abs(log(datum.value)/LN10-round(log(datum.value)/LN10))<0.01 ? -22 : -12"}}}
},
"layer": [
  {"data": {"values": [{"Nbead": 10000, "LOL": 0.83}, {"Nbead": 30000, "LOL": 3.35}, {"Nbead": 100000, "LOL": 13.6}, {"Nbead": 300000, "LOL": 47.6}, {"Nbead": 1000000, "LOL": 178}]},
   "mark": {"type": "circle", "color": "#0b3b7e", "size": 380, "opacity": 1}},
  {"data": {"values": [{"Nbead": 3686, "Nbead2": 55700, "LOL": 692.8, "LOL2": 38.07}]},
   "mark": {"type": "rect", "fill": "white", "stroke": "black", "strokeWidth": 1.5},
   "encoding": {"x2": {"field": "Nbead2"}, "y2": {"field": "LOL2"}}},
  {"data": {"values": [{"Nbead": 30400, "LOL": 692.8, "LOL2": 38.07}]},
   "mark": {"type": "rule", "color": "#a0a0a0", "strokeWidth": 1.3, "strokeDash": [6, 4]}, "encoding": {"y2": {"field": "LOL2"}}},
  {"data": {"values": [{"Nbead":3686,"LOL":46.92},{"Nbead":5101,"LOL":47.32},{"Nbead":6440,"LOL":49.78},{"Nbead":7826,"LOL":55.43},{"Nbead":9497,"LOL":69.46},{"Nbead":11530,"LOL":99.4},{"Nbead":13990,"LOL":150.7},{"Nbead":17010,"LOL":228.8},{"Nbead":20640,"LOL":333},{"Nbead":25050,"LOL":445.7},{"Nbead":30400,"LOL":540},{"Nbead":36950,"LOL":596.5},{"Nbead":44850,"LOL":616.9},{"Nbead":55700,"LOL":622.1}]},
   "mark": {"type": "line", "color": "black", "strokeWidth": 2.2, "interpolate": "monotone"}, "encoding": {}},
  {"data": {"values": [{"Nbead": 3686, "LOL": 52.53, "LOL2": 42.91}]},
   "mark": {"type": "rule", "color": "black", "strokeWidth": 2.5}, "encoding": {"y2": {"field": "LOL2"}}},
  {"data": {"values": [{"Nbead": 3686, "LOL": 52.53}, {"Nbead": 3686, "LOL": 42.91}]},
   "mark": {"type": "tick", "orient": "horizontal", "size": 10, "thickness": 2.5, "color": "black", "opacity": 1}},
  {"data": {"values": [{"Nbead": 61160, "Nbead2": 33500, "LOL": 96.94}]},
   "mark": {"type": "rule", "color": "black", "strokeWidth": 1.5}, "encoding": {"x2": {"field": "Nbead2"}}},
  {"data": {"values": [{"Nbead": 32890, "LOL": 96.94}]},
   "mark": {"type": "point", "shape": "triangle-left", "size": 45, "filled": true, "color": "black", "opacity": 1}},
  {"data": {"values": [{"Nbead": 63950, "LOL": 74.17, "t": "LOL"}]},
   "mark": {"type": "text", "align": "left", "baseline": "alphabetic", "fontSize": 36, "font": "DejaVu Sans"},
   "encoding": {"text": {"field": "t"}}},
  {"data": {"values": [{"Nbead": 2838, "LOL": 65.38, "t": "AEVB"}]},
   "mark": {"type": "text", "align": "left", "baseline": "alphabetic", "angle": 270, "fontSize": 36, "font": "DejaVu Sans"},
   "encoding": {"text": {"field": "t"}}},
  {"data": {"values": [{"Nbead": 10920, "LOL": 18.8, "t": "C"}, {"Nbead": 54360, "LOL": 0.016789, "t": "N"}]},
   "mark": {"type": "text", "align": "left", "baseline": "alphabetic", "fontSize": 33, "font": "DejaVu Sans"},
   "encoding": {"text": {"field": "t"}}},
  {"data": {"values": [{"Nbead": 15424, "LOL": 17.58, "t": "EV"}, {"Nbead": 78370, "LOL": 0.015433, "t": "bead"}]},
   "mark": {"type": "text", "align": "left", "baseline": "alphabetic", "fontSize": 25, "font": "DejaVu Sans"},
   "encoding": {"text": {"field": "t"}}},
  {"data": {"values": [{"Nbead": 311.9, "LOL": 2.5351, "t": "LOL(fM)"}]},
   "mark": {"type": "text", "align": "left", "baseline": "alphabetic", "angle": 270, "fontSize": 37, "fontWeight": "bold", "font": "Liberation Sans"},
   "encoding": {"text": {"field": "t"}}},
  {"data": {"values": [{"Nbead": 158.5, "LOL": 1498, "t": "D"}]},
   "mark": {"type": "text", "align": "left", "baseline": "alphabetic", "fontSize": 60, "fontWeight": "bold", "font": "Liberation Sans"},
   "encoding": {"text": {"field": "t"}}}
]
}
]
}
